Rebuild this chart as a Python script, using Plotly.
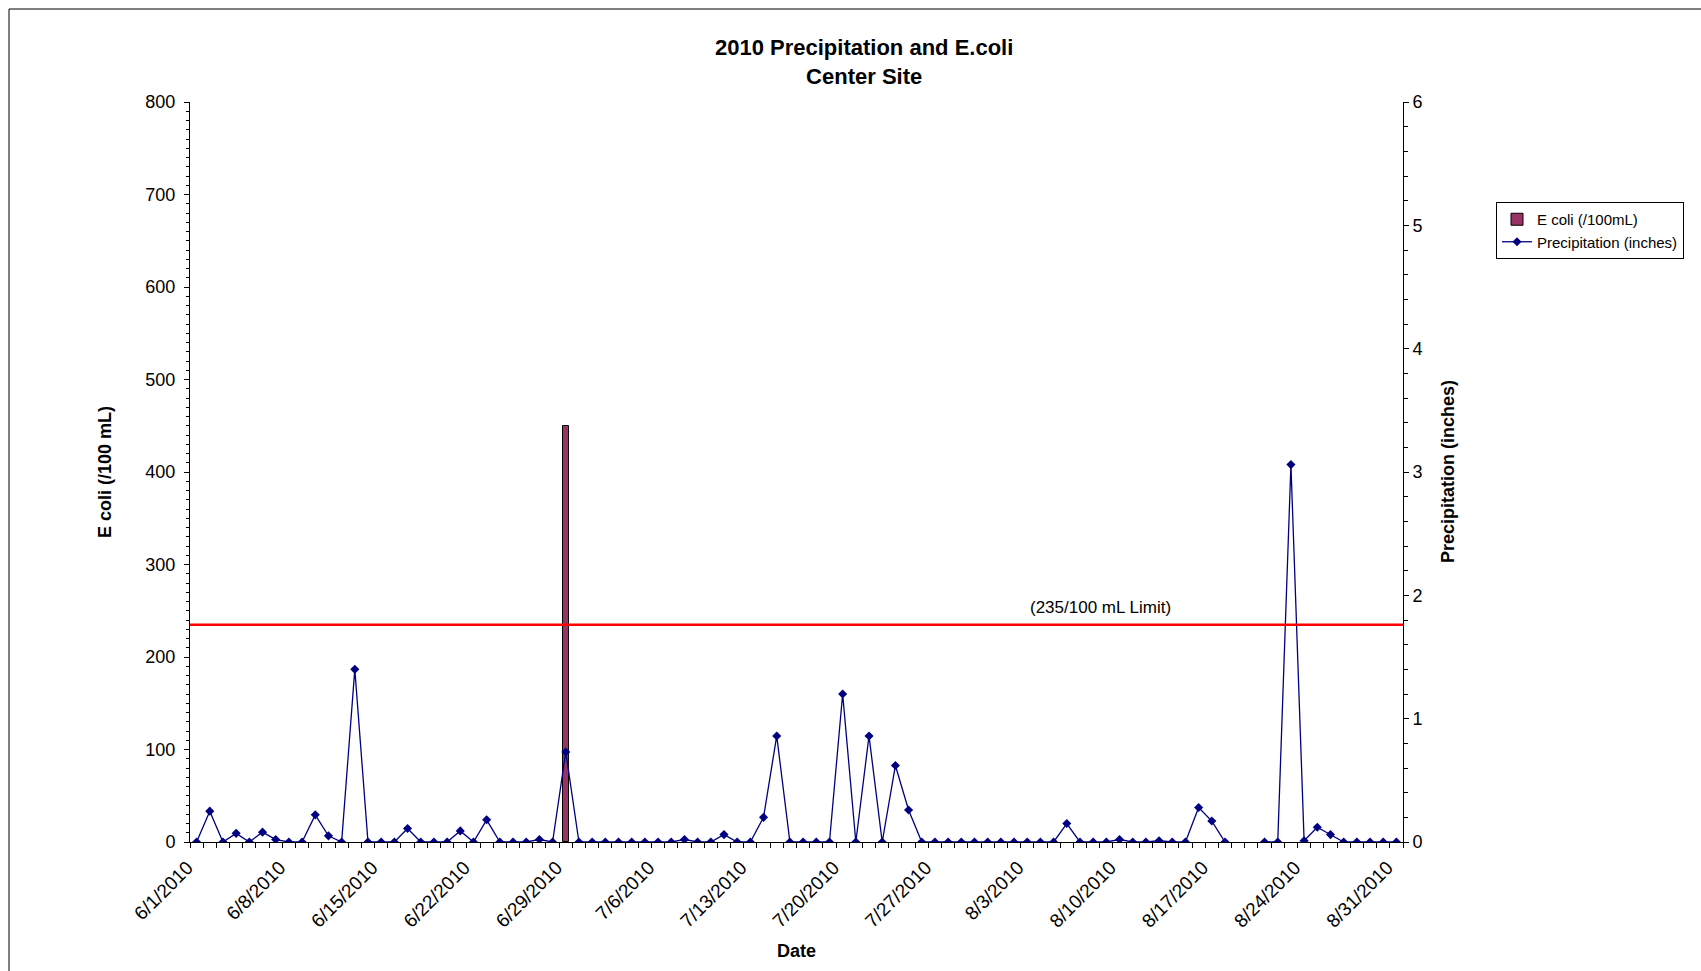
import pandas as pd
import plotly.graph_objects as go

# ---- data -------------------------------------------------------------
dates = pd.date_range("2010-06-01", "2010-08-31", freq="D")

# daily precipitation (inches); None = no record
precip_in = [
    0, 0.25, 0, 0.07, 0, 0.08, 0.02, 0, 0, 0.22,          # 6/1 - 6/10
    0.05, 0, 1.40, 0, 0, 0, 0.11, 0, 0, 0,                # 6/11 - 6/20
    0.09, 0, 0.18, 0, 0, 0, 0.02, 0, 0.73, 0,             # 6/21 - 6/30
    0, 0, 0, 0, 0, 0, 0, 0.02, 0, 0,                      # 7/1 - 7/10
    0.06, 0, 0, 0.20, 0.86, 0, 0, 0, 0, 1.20,             # 7/11 - 7/20
    0, 0.86, 0, 0.62, 0.26, 0, 0, 0, 0, 0,                # 7/21 - 7/30
    0, 0, 0, 0, 0, 0, 0.15, 0, 0, 0,                      # 7/31 - 8/9
    0.02, 0, 0, 0.01, 0, 0, 0.28, 0.17, 0, None,          # 8/10 - 8/19
    None, 0, 0, 3.06, 0.01, 0.12, 0.06, 0, 0, 0,          # 8/20 - 8/29
    0, 0,                                                 # 8/30 - 8/31
]

# E. coli samples (/100 mL)
ecoli_dates = ["2010-06-29"]
ecoli_values = [450]

ecoli_limit = 235
limit_label = "(235/100 mL Limit)"

tick_dates = pd.date_range("2010-06-01", "2010-08-31", freq="7D")
tick_labels = [f"{d.month}/{d.day}/{d.year}" for d in tick_dates]

# ---- styling ----------------------------------------------------------
FONT = "Arial, 'Liberation Sans', sans-serif"
DAY_MS = 86400000
half_day = pd.Timedelta(hours=12)
x_range = [dates[0] - half_day, dates[-1] + half_day]
day_edges = pd.date_range(dates[0] - half_day, dates[-1] + half_day, freq="D")

fig = go.Figure()

fig.add_trace(go.Bar(
    x=ecoli_dates, y=ecoli_values, name="E coli (/100mL)",
    width=0.46 * DAY_MS,
    marker=dict(color="#993366", line=dict(color="#000000", width=1)),
    yaxis="y",
))

fig.add_trace(go.Scatter(
    x=dates, y=precip_in, name="Precipitation (inches)",
    mode="lines+markers",
    line=dict(color="#000080", width=1.3),
    marker=dict(symbol="diamond", size=7, color="#000080"),
    yaxis="y2",
))

# E. coli limit line
fig.add_shape(type="line", xref="paper", x0=0, x1=1, yref="y",
              y0=ecoli_limit, y1=ecoli_limit,
              line=dict(color="#FF0000", width=2.5))

fig.add_annotation(text=limit_label, xref="paper", x=0.751, xanchor="center",
                   yref="y", y=ecoli_limit, yshift=17, showarrow=False,
                   font=dict(family=FONT, size=17, color="#000"))

# chart title
fig.add_annotation(text="<b>2010 Precipitation and E.coli</b><br><b>Center Site</b>",
                   xref="paper", x=0.5557, yref="paper", y=1.054,
                   xanchor="center", yanchor="middle", showarrow=False,
                   font=dict(family=FONT, size=22, color="#000"))

# axis titles
fig.add_annotation(text="<b>E coli (/100 mL)</b>", textangle=-90,
                   xref="paper", x=(105 - 190) / 1213, yref="paper", y=0.5,
                   xanchor="center", yanchor="middle", showarrow=False,
                   font=dict(family=FONT, size=18, color="#000"))
fig.add_annotation(text="<b>Precipitation (inches)</b>", textangle=-90,
                   xref="paper", x=(1448 - 190) / 1213, yref="paper", y=0.5,
                   xanchor="center", yanchor="middle", showarrow=False,
                   font=dict(family=FONT, size=18, color="#000"))
fig.add_annotation(text="<b>Date</b>",
                   xref="paper", x=0.5, yref="paper", y=(842 - 951) / 740,
                   xanchor="center", yanchor="middle", showarrow=False,
                   font=dict(family=FONT, size=18, color="#000"))

# outer chart frame
fig.add_shape(type="rect", xref="paper", yref="paper",
              x0=(9 - 190) / 1213, x1=1.6, y0=-0.6, y1=(842 - 9) / 740,
              line=dict(color="#000", width=1), layer="below")

tickfont = dict(family=FONT, size=18, color="#000")

fig.update_layout(
    width=1701, height=971,
    margin=dict(l=190, r=298, t=102, b=129, autoexpand=False),
    paper_bgcolor="white", plot_bgcolor="white",
    font=dict(family=FONT, color="#000"),
    bargap=0,
    showlegend=True,
    legend=dict(
        x=(1496 - 190) / 1213, y=(842 - 202) / 740,
        xanchor="left", yanchor="top",
        bordercolor="#000", borderwidth=1, bgcolor="white",
        font=dict(family=FONT, size=15, color="#000"),
        tracegroupgap=0, itemwidth=30,
    ),
    xaxis=dict(
        type="date", range=x_range, showgrid=False, zeroline=False,
        showline=True, linecolor="#000", linewidth=1,
        tickmode="array", tickvals=tick_dates, ticktext=tick_labels,
        ticks="", tickangle=-45,
        tickfont=dict(family=FONT, size=19, color="#000"),
        ticklabelshift=-9, ticklabelstandoff=6,
        minor=dict(tickmode="array", tickvals=day_edges, ticks="outside",
                   ticklen=5, tickcolor="#000", showgrid=False),
    ),
    xaxis2=dict(
        type="date", overlaying="x", matches="x", anchor="y", side="bottom",
        showgrid=False, zeroline=False, showline=False, showticklabels=False,
        tickmode="array", tickvals=day_edges, ticks="inside", ticklen=5,
        tickcolor="#000",
    ),
    yaxis=dict(
        range=[0, 800], tickmode="linear", tick0=0, dtick=100,
        showgrid=False, zeroline=False, showline=True, linecolor="#000",
        ticks="outside", ticklen=5, tickcolor="#000", tickfont=tickfont,
        ticklabelstandoff=5,
        minor=dict(dtick=10, ticks="outside", ticklen=3, tickcolor="#000",
                   showgrid=False),
    ),
    yaxis3=dict(
        overlaying="y", matches="y", anchor="x", side="left",
        showgrid=False, zeroline=False, showline=False, showticklabels=False,
        tickmode="linear", tick0=0, dtick=100, ticks="inside", ticklen=6,
        tickcolor="#000",
    ),
    yaxis2=dict(
        overlaying="y", side="right", anchor="x", range=[0, 6],
        tickmode="linear", tick0=0, dtick=1,
        showgrid=False, zeroline=False, showline=True, linecolor="#000",
        ticks="outside", ticklen=5, tickcolor="#000", tickfont=tickfont,
        minor=dict(dtick=0.2, ticks="outside", ticklen=4, tickcolor="#000",
                   showgrid=False),
    ),
    yaxis4=dict(
        overlaying="y", matches="y2", anchor="x", side="right",
        showgrid=False, zeroline=False, showline=False, showticklabels=False,
        tickmode="linear", tick0=0, dtick=1, ticks="inside", ticklen=6,
        tickcolor="#000",
    ),
)

fig.write_html("out.html")
